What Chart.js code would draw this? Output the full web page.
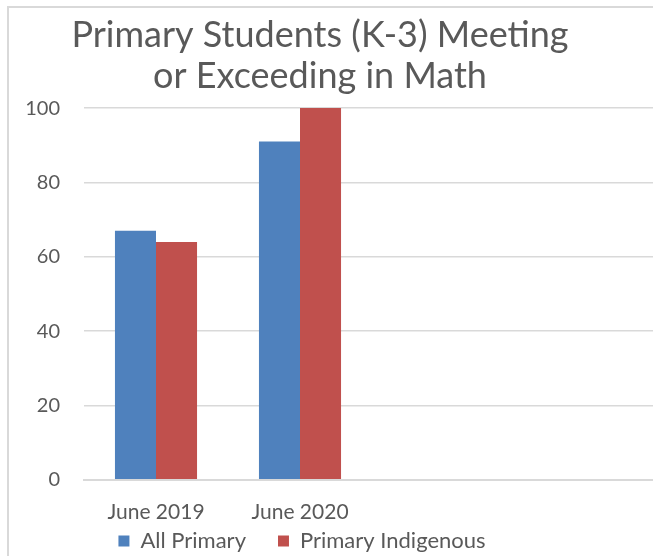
<!DOCTYPE html>
<html>
<head>
<meta charset="utf-8">
<script src="https://cdn.jsdelivr.net/npm/chart.js@4"></script>
<style>
  html, body { margin: 0; padding: 0; background: #fff; }
  body { width: 653px; height: 556px; overflow: hidden; position: relative; }
  #frame {
    position: absolute; left: 7px; top: 6px; width: 700px; height: 600px;
    border-left: 2px solid #d9d9d9; border-top: 2px solid #d9d9d9;
  }
  #wrap { position: absolute; left: -20px; top: 0; width: 680px; height: 601px; }
</style>
</head>
<body>
<div id="frame"></div>
<div id="wrap"><canvas id="chart"></canvas></div>
<script>
// Chart data
const categories = ["June 2019", "June 2020", "", ""]
const allPrimary = [67, 91, null, null]
const primaryIndigenous = [64, 100, null, null]
const yTicks = [0, 20, 40, 60, 80, 100]

const textColor = "#595959"
const fontFamily = "Lato, 'Liberation Sans', sans-serif"

// Move the legend to where it sits in the reference
const legendOffset = {
  id: "legendOffset",
  afterLayout(chart) {
    const legend = chart.legend
    const dx = -18
    const dy = -39
    legend.left += dx
    legend.right += dx
    legend.top += dy
    legend.bottom += dy
  },
}

const canvas = document.getElementById("chart")

new Chart(canvas, {
  type: "bar",
  data: {
    labels: categories,
    datasets: [
      {
        label: "All Primary",
        data: allPrimary,
        backgroundColor: "#4f81bd",
      },
      {
        label: "Primary Indigenous",
        data: primaryIndigenous,
        backgroundColor: "#c0504d",
      },
    ],
  },
  options: {
    responsive: true,
    maintainAspectRatio: false,
    animation: false,
    layout: { padding: 0 },
    datasets: {
      bar: {
        categoryPercentage: 0.57,
        barPercentage: 1,
      },
    },
    scales: {
      x: {
        grid: { display: false },
        border: { color: "#d9d9d9", width: 2 },
        ticks: {
          color: textColor,
          font: { family: fontFamily, size: 21 },
          padding: 12,
          maxRotation: 0,
        },
      },
      y: {
        min: 0,
        max: 100,
        afterBuildTicks: (axis) => {
          axis.ticks = yTicks.map((v) => ({ value: v }))
        },
        afterFit: (axis) => {
          axis.width = 104
        },
        grid: { color: "#d9d9d9", lineWidth: 1.5, drawTicks: false },
        border: { display: false },
        ticks: {
          color: textColor,
          font: { family: fontFamily, size: 20 },
          padding: 24,
        },
      },
    },
    plugins: {
      title: {
        display: true,
        text: ["Primary Students (K-3) Meeting", "or Exceeding in Math"],
        color: textColor,
        font: { family: fontFamily, size: 36, weight: "normal", lineHeight: 1.14 },
        padding: { top: 15, bottom: 11 },
      },
      legend: {
        position: "bottom",
        labels: {
          color: textColor,
          font: { family: fontFamily, size: 22 },
          boxWidth: 11,
          boxHeight: 11,
          padding: 32,
        },
      },
      tooltip: { enabled: false },
    },
  },
  plugins: [legendOffset],
})
</script>
</body>
</html>
